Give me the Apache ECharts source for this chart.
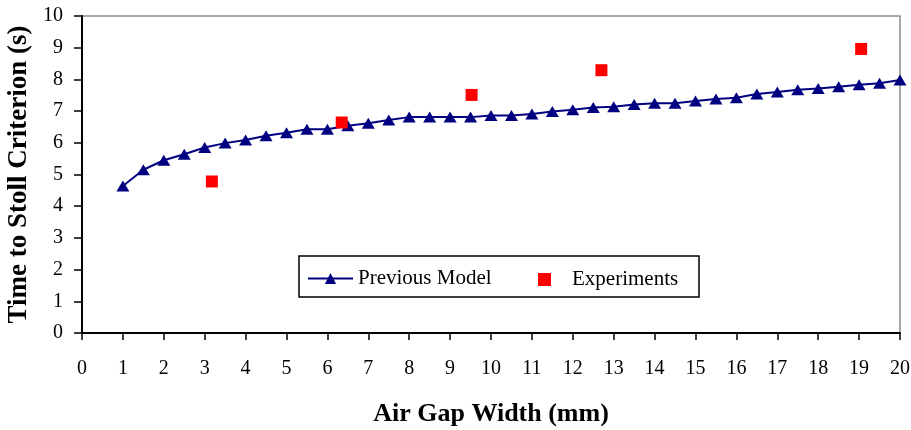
<!DOCTYPE html>
<html>
<head>
<meta charset="utf-8">
<script src="https://cdn.jsdelivr.net/npm/echarts@6/dist/echarts.min.js"></script>
<style>
  html, body { margin: 0; padding: 0; background: #fff; }
  #chart { width: 911px; height: 430px; }
</style>
</head>
<body>
<div id="chart"></div>
<script>
// Air gap widths (mm) used by the previous model
const modelGap = [1, 1.5, 2, 2.5, 3, 3.5, 4, 4.5, 5, 5.5, 6, 6.5, 7, 7.5, 8, 8.5, 9, 9.5,
  10, 10.5, 11, 11.5, 12, 12.5, 13, 13.5, 14, 14.5, 15, 15.5, 16, 16.5, 17, 17.5, 18, 18.5,
  19, 19.5, 20];
// Predicted time to Stoll criterion (s)
const modelTime = [4.64, 5.15, 5.45, 5.64, 5.85, 5.99, 6.09, 6.22, 6.32, 6.43, 6.43, 6.54,
  6.62, 6.72, 6.81, 6.81, 6.81, 6.81, 6.86, 6.86, 6.91, 6.99, 7.04, 7.11, 7.14, 7.21, 7.25,
  7.25, 7.32, 7.38, 7.42, 7.54, 7.60, 7.67, 7.71, 7.77, 7.83, 7.88, 7.98];
// Measured gaps (mm) and times (s)
const expGap = [3.175, 6.35, 9.525, 12.7, 19.05];
const expTime = [4.78, 6.64, 7.51, 8.29, 8.96];

const xTicks = { min: 0, max: 20, interval: 1 };
const yTicks = { min: 0, max: 10, interval: 1 };

const FONT = '"Liberation Serif", "Times New Roman", serif';

const chart = echarts.init(document.getElementById('chart'), null, { renderer: 'canvas' });

chart.setOption({
  backgroundColor: '#ffffff',
  animation: false,
  grid: {
    left: 82, right: 11, top: 16, bottom: 97,
    outerBoundsMode: 'none', containLabel: false,
    show: true, borderColor: '#8c8c8c', borderWidth: 1.5, backgroundColor: 'transparent'
  },
  xAxis: {
    type: 'value',
    min: xTicks.min, max: xTicks.max, interval: xTicks.interval,
    name: 'Air Gap Width (mm)',
    nameLocation: 'middle', nameGap: 68,
    nameTextStyle: { fontFamily: FONT, fontWeight: 'bold', fontSize: 26, color: '#000' },
    axisLine: { show: true, onZero: false, lineStyle: { color: '#000', width: 2 } },
    axisTick: { show: true, inside: false, length: 7, lineStyle: { color: '#000', width: 1.5 } },
    axisLabel: { fontFamily: FONT, fontSize: 20, color: '#000', margin: 26 },
    splitLine: { show: false }
  },
  yAxis: {
    type: 'value',
    min: yTicks.min, max: yTicks.max, interval: yTicks.interval,
    name: 'Time to Stoll Criterion (s)',
    nameLocation: 'middle', nameGap: 49, nameRotate: 90,
    nameTextStyle: { fontFamily: FONT, fontWeight: 'bold', fontSize: 27, color: '#000' },
    axisLine: { show: true, onZero: false, lineStyle: { color: '#000', width: 2 } },
    axisTick: { show: true, inside: false, length: 8, lineStyle: { color: '#000', width: 1.5 } },
    axisLabel: { fontFamily: FONT, fontSize: 20, color: '#000', margin: 19 },
    splitLine: { show: false }
  },
  legend: [
    {
      data: ['Previous Model'],
      left: 307, top: 268,
      padding: 0,
      itemWidth: 45, itemHeight: 14,
      textStyle: { fontFamily: FONT, fontSize: 21, color: '#000' }
    },
    {
      data: [{ name: 'Experiments', icon: 'rect' }],
      left: 538, top: 269,
      padding: 0,
      itemWidth: 13, itemHeight: 13,
      textStyle: { fontFamily: FONT, fontSize: 21, color: '#000', padding: [0, 0, 0, 16] }
    }
  ],
  graphic: [
    {
      type: 'rect',
      shape: { x: 299, y: 256, width: 400, height: 41 },
      style: { fill: 'transparent', stroke: '#000', lineWidth: 1.5 },
      z: 100
    }
  ],
  series: [
    {
      name: 'Previous Model',
      type: 'line',
      data: modelGap.map((g, i) => [g, modelTime[i]]),
      symbol: 'triangle',
      symbolSize: [13, 11],
      showAllSymbol: true,
      lineStyle: { color: '#000080', width: 2 },
      itemStyle: { color: '#000080', borderWidth: 0 },
      z: 3
    },
    {
      name: 'Experiments',
      type: 'scatter',
      data: expGap.map((g, i) => [g, expTime[i]]),
      symbol: 'rect',
      symbolSize: 12,
      itemStyle: { color: '#ff0000', opacity: 1 },
      z: 4
    }
  ]
});
</script>
</body>
</html>
